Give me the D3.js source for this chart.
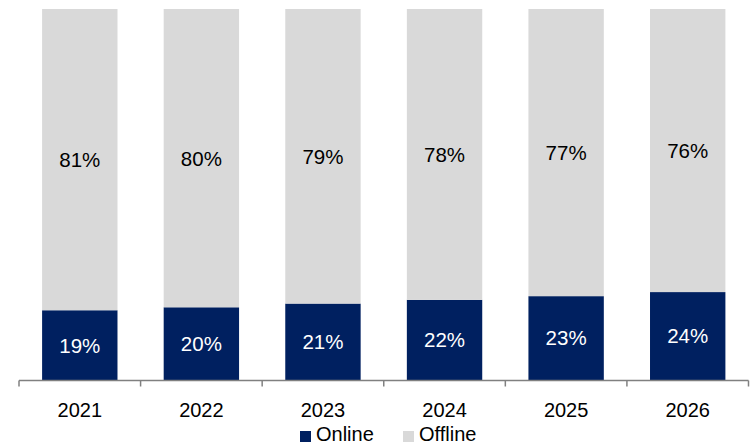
<!DOCTYPE html>
<html><head><meta charset="utf-8">
<script src="https://cdn.jsdelivr.net/npm/d3@7"></script>
<style>body{margin:0;background:#fff;}svg{display:block;font-family:"Liberation Sans",Arial,sans-serif;}</style>
</head><body>
<svg id="c" width="753" height="445"></svg>
<script>
const years = ["2021","2022","2023","2024","2025","2026"];
const online = [18.8, 19.6, 20.6, 21.6, 22.6, 23.7];
const offline = [81.2, 80.4, 79.4, 78.4, 77.4, 76.3];
const seriesNames = ["Online","Offline"];
const colors = ["#002060","#d9d9d9"];

const svg = d3.select("#c");
const x = d3.scaleBand().domain(years).range([19, 748.5]).paddingInner(0.38).paddingOuter(0.19);
const y = d3.scaleLinear().domain([0,100]).range([380, 9]);

const data = years.map((yr,i)=>({year:yr, Online:online[i], Offline:offline[i]}));
const stack = d3.stack().keys(seriesNames)(data);

const g = svg.append("g");
stack.forEach((s,k)=>{
  g.selectAll(null).data(s).enter().append("rect")
    .attr("x", d=>x(d.data.year))
    .attr("width", x.bandwidth())
    .attr("y", d=>y(d[1]))
    .attr("height", d=>y(d[0])-y(d[1]))
    .attr("fill", colors[k]);
  g.selectAll(null).data(s).enter().append("text")
    .attr("x", d=>x(d.data.year)+x.bandwidth()/2)
    .attr("y", d=>(y(d[0])+y(d[1]))/2)
    .attr("dy","0.36em")
    .attr("text-anchor","middle")
    .attr("font-size", 20.5)
    .attr("fill", k===0 ? "#fff" : "#000")
    .text(d=>Math.round(d.data[seriesNames[k]])+"%");
});

// axis
const xa = d3.scaleBand().domain(years).range([19, 748.5]);
const axis = svg.append("g").attr("transform","translate(0,380.5)");
axis.append("line").attr("x1",19).attr("x2",748.5).attr("stroke","#808080").attr("stroke-width",1.5);
const tickPos = years.map(yv=>xa(yv)).concat([748.5]);
axis.selectAll(null).data(tickPos).enter().append("line")
  .attr("x1",d=>d).attr("x2",d=>d).attr("y1",0).attr("y2",6)
  .attr("stroke","#808080").attr("stroke-width",1.5);
axis.selectAll(null).data(years).enter().append("text")
  .attr("x",d=>xa(d)+xa.bandwidth()/2)
  .attr("y",36)
  .attr("text-anchor","middle")
  .attr("font-size",20)
  .attr("fill","#000")
  .text(d=>d);

// legend
const leg = svg.append("g");
const legX = [300, 403];
seriesNames.forEach((n,i)=>{
  leg.append("rect").attr("x",legX[i]).attr("y",431).attr("width",11).attr("height",11).attr("fill",colors[i]);
  leg.append("text").attr("x",legX[i]+16).attr("y",441).attr("font-size",20).attr("fill","#000").text(n);
});
</script>
</body></html>
